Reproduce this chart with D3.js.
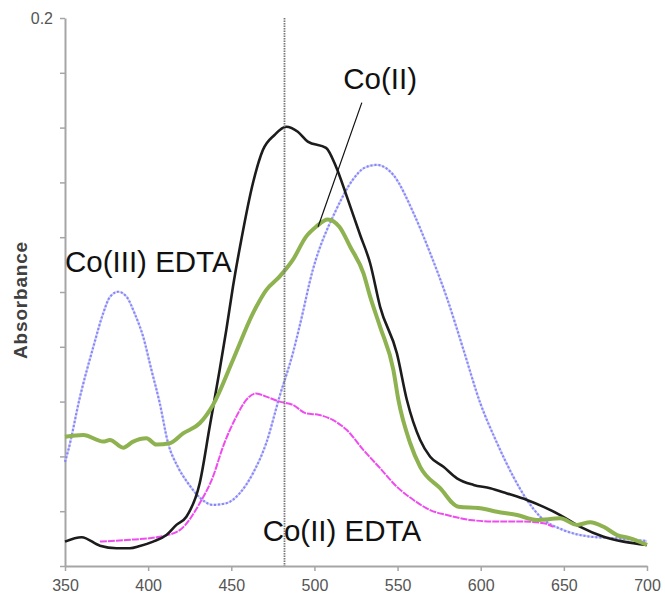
<!DOCTYPE html>
<html>
<head>
<meta charset="utf-8">
<script src="https://cdn.jsdelivr.net/npm/d3@7"></script>
<style>
  html, body { margin: 0; padding: 0; background: #fff; }
  svg { display: block; }
</style>
</head>
<body>
<svg id="chart" width="665" height="596"></svg>
<script>
// ---------------- DATA ----------------
const xTicks = [350, 400, 450, 500, 550, 600, 650, 700];
const yTicks = [0, 0.02, 0.04, 0.06, 0.08, 0.1, 0.12, 0.14, 0.16, 0.18, 0.2];
const yTickLabels = {"0.2": "0.2"};
const yLabel = "Absorbance";

// Co(III) EDTA (blue dotted)
const blueW = [350,352,359,367,373,377,382,387,392,397,402,407,412,418,424,431,439,447,455,463,471,479,487,491,499,513,523,530,537.5,547.5,559.6,569.6,579.7,589.7,599.7,609.8,619.7,627.8,635.8,649.8,665.9,682,700];
const blueA = [0.0380,0.0423,0.0617,0.0799,0.0923,0.0982,0.1001,0.0983,0.0920,0.0837,0.0715,0.0594,0.0448,0.0360,0.0302,0.0250,0.0223,0.0229,0.0265,0.0338,0.0448,0.0618,0.0776,0.0873,0.1080,0.1299,0.1409,0.1453,0.1464,0.1427,0.1288,0.1142,0.0978,0.0788,0.0595,0.0449,0.0325,0.0241,0.0180,0.0131,0.0107,0.0101,0.0091];

// unlabelled black trace
const blackW = [350,360,371,381,389,395,403,411,417,423,431,437,443,447,451,456,463,469,476,483,490,496,507,513,519.5,527.5,533.5,539.5,549.6,555.6,563.6,569.6,577.6,585.7,595.7,605.7,615.8,627.8,637.8,647.8,659.9,673.9,685.9,700];
const blackA = [0.0089,0.0105,0.0074,0.0065,0.0065,0.0073,0.0089,0.0113,0.0150,0.0180,0.0302,0.0508,0.0715,0.0861,0.1019,0.1190,0.1397,0.1518,0.1573,0.1603,0.1585,0.1549,0.1526,0.1457,0.1348,0.1208,0.1105,0.0946,0.0776,0.0606,0.0460,0.0399,0.0362,0.0320,0.0296,0.0284,0.0265,0.0241,0.0216,0.0186,0.0143,0.0107,0.0089,0.0077];

// Co(II) (green)
const greenW = [350,361,373,377,385,391,399,405,413,421,431,439,451,463,471,479,487,495,501,508,515,521.5,529.5,533.5,539.5,547.5,550.5,557.6,563.6,575.6,586.6,599.7,609.8,621.8,633.8,647.8,657.9,665.9,673.9,682,690,700];
const greenA = [0.0472,0.0478,0.0454,0.0460,0.0432,0.0454,0.0466,0.0443,0.0448,0.0484,0.0521,0.0588,0.0752,0.0922,0.1007,0.1056,0.1117,0.1202,0.1238,0.1265,0.1238,0.1165,0.1068,0.0983,0.0873,0.0715,0.0606,0.0448,0.0362,0.0284,0.0216,0.0211,0.0198,0.0186,0.0168,0.0174,0.0150,0.0160,0.0143,0.0113,0.0101,0.0077];

// Co(II) EDTA (magenta)
const magW = [371,387,407,419,431,439,445,453,459,465,471,479,487,495,503,511,519.5,529.5,539.5,549.6,559.6,569.6,579.7,593.7,609.8,625.8,637.8,643.8];
const magA = [0.0089,0.0095,0.0107,0.0131,0.0229,0.0326,0.0435,0.0545,0.0606,0.0630,0.0618,0.0600,0.0588,0.0557,0.0551,0.0533,0.0496,0.0423,0.0357,0.0289,0.0241,0.0204,0.0186,0.0168,0.0162,0.0162,0.0156,0.0143];

// annotations (in data units)
const markerW = 482;
const labelTexts = ["Co(III) EDTA", "Co(II)", "Co(II) EDTA"];
const labelW = [350, 539.5, 516.5];
const labelA = [0.111, 0.1781, 0.0131];
const leaderW = [528.5, 502.2];
const leaderA = [0.1691, 0.1238];

// ---------------- CHART ----------------
const svg = d3.select("#chart");
const x = d3.scaleLinear().domain([350, 700]).range([65, 647]);
const y = d3.scaleLinear().domain([0, 0.2]).range([566, 18]);

const axisColor = "#a6a6a6";
const tickTextColor = "#555555";
const font = "'Liberation Sans', Arial, sans-serif";

// Axes
const gx = svg.append("g").attr("transform", `translate(0,${y(0)})`)
  .call(d3.axisBottom(x).tickValues(xTicks).tickSize(5).tickSizeOuter(0).tickPadding(9).tickFormat(d3.format("d")));
const gy = svg.append("g").attr("transform", `translate(${x(350)},0)`)
  .call(d3.axisLeft(y).tickValues(yTicks).tickSize(5).tickSizeOuter(0).tickPadding(7)
    .tickFormat(d => yTickLabels[String(+d.toFixed(2))] || ""));
[gx, gy].forEach(g => {
  g.select(".domain").attr("stroke", axisColor).attr("stroke-width", 2);
  g.selectAll(".tick line").attr("stroke", axisColor).attr("stroke-width", 1.5);
  g.selectAll(".tick text").attr("fill", tickTextColor).attr("font-family", font).attr("font-size", 16);
});
gy.selectAll(".tick text").attr("dy", "0.35em");

// Y label
svg.append("text")
  .attr("transform", `translate(27,${(y(0) + y(0.2)) / 2 + 8}) rotate(-90)`)
  .attr("text-anchor", "middle")
  .attr("font-family", font).attr("font-weight", "bold").attr("font-size", 19)
  .attr("letter-spacing", 0.8)
  .attr("fill", "#404040")
  .text(yLabel);

const line = d3.line().x(d => x(d[0])).y(d => y(d[1])).curve(d3.curveMonotoneX);
const zip = (w, a) => w.map((v, i) => [v, a[i]]);

// Blue (dotted light blue)
svg.append("path").datum(zip(blueW, blueA)).attr("d", line)
  .attr("fill", "none").attr("stroke", "#c0c0fb").attr("stroke-width", 2.2).attr("opacity", 0.7);
svg.append("path").datum(zip(blueW, blueA)).attr("d", line)
  .attr("fill", "none").attr("stroke", "#7474f2").attr("stroke-width", 2.2)
  .attr("stroke-dasharray", "2,2").attr("opacity", 0.8);

// Magenta
svg.append("path").datum(zip(magW, magA)).attr("d", line)
  .attr("fill", "none").attr("stroke", "#ee4cee").attr("stroke-width", 2)
  .attr("stroke-dasharray", "7,1");

// Black
svg.append("path").datum(zip(blackW, blackA)).attr("d", line)
  .attr("fill", "none").attr("stroke", "#1c1c1c").attr("stroke-width", 2.6);

// Green
svg.append("path").datum(zip(greenW, greenA)).attr("d", line)
  .attr("fill", "none").attr("stroke", "#8db24f").attr("stroke-width", 4);

// Vertical marker (dotted)
svg.append("line")
  .attr("x1", x(markerW)).attr("x2", x(markerW))
  .attr("y1", y(0.2)).attr("y2", y(0))
  .attr("stroke", "#777").attr("stroke-width", 1.8).attr("stroke-dasharray", "1.5,1");

// Leader line
svg.append("line")
  .attr("x1", x(leaderW[0])).attr("y1", y(leaderA[0]))
  .attr("x2", x(leaderW[1])).attr("y2", y(leaderA[1]))
  .attr("stroke", "#111").attr("stroke-width", 1.2);

// Labels
const anchors = ["start", "middle", "middle"];
labelTexts.forEach((t, i) => {
  svg.append("text")
    .attr("x", x(labelW[i])).attr("y", y(labelA[i]))
    .attr("dy", "0.36em")
    .attr("text-anchor", anchors[i])
    .attr("font-family", font).attr("font-size", 29.5)
    .attr("fill", "#111")
    .text(t);
});
</script>
</body>
</html>
